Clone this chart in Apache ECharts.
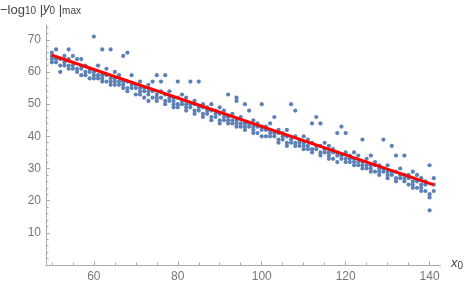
<!DOCTYPE html>
<html>
<head>
<meta charset="utf-8">
<script src="https://cdn.jsdelivr.net/npm/echarts@6/dist/echarts.min.js"></script>
<style>html,body{margin:0;padding:0;background:#fff}#c{width:467px;height:287px}</style>
</head>
<body>
<div id="c"></div>
<script>
// x0 values (one column of points per x0)
var xValues = [50,51,52,53,54,55,56,57,58,59,60,61,62,63,64,65,66,67,68,69,70,71,72,73,74,75,76,77,78,79,80,81,82,83,84,85,86,87,88,89,90,91,92,93,94,95,96,97,98,99,100,101,102,103,104,105,106,107,108,109,110,111,112,113,114,115,116,117,118,119,120,121,122,123,124,125,126,127,128,129,130,131,132,133,134,135,136,137,138,139,140,141];
// -log10|y0|max values observed at each x0
var yColumns = [
 [66,64,63,65],[67,64,63],[64,62,60],[65,63,62],[67,64,62,61],[65,62,61],[64,61,60],[64,62,61,59],[62,60,59],[61,60,58],
 [71,60,59,58],[62,59,58],[67,59,58,57],[61,59,57],[67,58,57,56],[60,58,57,56],[59,57,56],[65,57,56,55],[66,57,55,54],[59,56,55],
 [56,55,53],[57,55,54,53],[55,54,52],[56,54,53,51],[57,54,52],[59,53,52,51],[57,54,52],[59,53,51,50],[54,52,51],[52,51,50,49],
 [57,52,50,49],[53,51,50],[52,50,49,48],[57,50,49],[51,50,48,47],[57,49,48],[50,49,47,46],[49,48,47],[50,48,46,45],[48,47,46],
 [49,47,45,44],[48,46,45],[53,46,45,44],[47,45,44],[51,52,45,44,43],[46,44,43],[50,44,43,42],[48,44,43],[45,43,42,41],[44,43,41],
 [50,43,42,40],[43,42,40],[44,42,41,40],[46,41,40],[42,41,39,38],[41,40,39],[42,40,38,37],[50,39,38],[48,40,38,37],[39,38,37],
 [40,38,37,36],[39,37,36],[44,38,36,35],[46,37,36],[44,37,35,34],[38,36,35],[37,35,34,33],[36,35,33],[41,35,34,32],[43,34,33],
 [41,35,33,32],[34,33,32],[35,33,32,31],[34,32,31],[39,32,31,30],[33,31,30],[34,31,30,29],[32,31,29],[31,30,29,28],[39,30,29],
 [31,29,28,27],[37,29,28],[34,29,27,26],[30,28,27],[34,28,27,26],[28,27,25],[29,26,25,24],[28,26,24],[27,25,24,23],[26,25,23],
 [31,22,21,17],[27,25,23]
];
// fitted line end points
var fitX = [50, 141];
var fitY = [65.2, 24.9];
// tick values
var xLabelTicks = [60,80,100,120,140];
var xMinorTicks = [50,55,65,70,75,85,90,95,105,110,115,125,130,135];
var yLabelTicks = [10,20,30,40,50,60,70];
var yMinorTicks = [2,4,6,8,12,14,16,18,22,24,26,28,32,34,36,38,42,44,46,48,52,54,56,58,62,64,66,68,72,74];

var pts = [];
for (var i = 0; i < xValues.length; i++) {
  for (var j = 0; j < yColumns[i].length; j++) pts.push([xValues[i], yColumns[i][j]]);
}
var fit = fitX.map(function(x, k){ return [x, fitY[k]]; });

var axisCol = '#aaaaaa', txtCol = '#777777', font = 'Liberation Sans';
var XMIN = 48.6, XMAX = 142.6, YMIN = 0, YMAX = 74.6;

var chart = echarts.init(document.getElementById('c'), null, {renderer:'canvas'});
chart.setOption({
  animation: false,
  grid: {left: 46, right: 26.5, top: 25, bottom: 22},
  xAxis: [
    {type:'value', min:XMIN, max:XMAX, position:'bottom',
     axisLine:{show:true, onZero:false, lineStyle:{color:axisCol, width:1}},
     axisTick:{show:true, inside:true, length:4, customValues:xLabelTicks, lineStyle:{color:axisCol}},
     axisLabel:{customValues:xLabelTicks, color:txtCol, fontSize:12, fontFamily:font, margin:6},
     splitLine:{show:false}},
    {type:'value', min:XMIN, max:XMAX, position:'bottom',
     axisLine:{show:false, onZero:false},
     axisTick:{show:true, inside:true, length:2.5, customValues:xMinorTicks, lineStyle:{color:axisCol}},
     axisLabel:{show:false}, splitLine:{show:false}}
  ],
  yAxis: [
    {type:'value', min:YMIN, max:YMAX, position:'left',
     axisLine:{show:true, onZero:false, lineStyle:{color:axisCol, width:1}},
     axisTick:{show:true, inside:true, length:4, customValues:yLabelTicks, lineStyle:{color:axisCol}},
     axisLabel:{customValues:yLabelTicks, color:txtCol, fontSize:12, fontFamily:font, margin:5},
     splitLine:{show:false}},
    {type:'value', min:YMIN, max:YMAX, position:'left',
     axisLine:{show:false, onZero:false},
     axisTick:{show:true, inside:true, length:2.5, customValues:yMinorTicks, lineStyle:{color:axisCol}},
     axisLabel:{show:false}, splitLine:{show:false}}
  ],
  series: [
    {type:'scatter', xAxisIndex:0, yAxisIndex:0, data:pts, symbolSize:4.2,
     itemStyle:{color:'#5E81B5', opacity:1}},
    {type:'line', xAxisIndex:0, yAxisIndex:0, data:fit, showSymbol:false, symbol:'none',
     lineStyle:{color:'#ff0000', width:3}, z:3}
  ],
  graphic: [
    {type:'text', left:0, top:2, style:{
      text:'{a|−log}{s|10}{a| |}{i|y}{s|0}{a| |}{s|max}',
      rich:{
        a:{fontSize:13, fontFamily:font, fill:'#444', verticalAlign:'bottom'},
        i:{fontSize:13, fontFamily:font, fontStyle:'italic', fill:'#444'},
        s:{fontSize:10, fontFamily:font, fill:'#444', padding:[6,0,0,0]}
      }}},
    {type:'text', left:451, top:257, style:{
      text:'{i|x}{s|0}',
      rich:{
        i:{fontSize:13, fontFamily:font, fontStyle:'italic', fill:'#444'},
        s:{fontSize:10, fontFamily:font, fill:'#444', padding:[6,0,0,0]}
      }}}
  ]
});
</script>
</body>
</html>
